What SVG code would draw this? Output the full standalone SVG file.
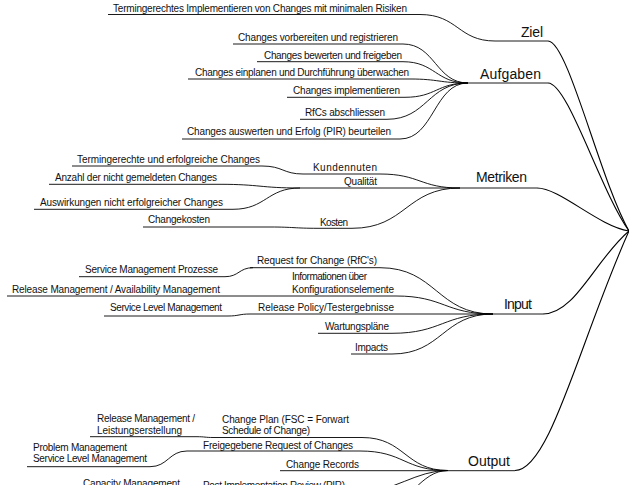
<svg xmlns="http://www.w3.org/2000/svg" width="629" height="485" viewBox="0 0 629 485">
<style>
.c{fill:none;stroke:#000;stroke-width:0.9}
.r{fill:none;stroke:#000;stroke-width:1.1}
.t{font-family:"Liberation Sans",Arial,sans-serif;font-size:10px;fill:#111}
.m{font-family:"Liberation Sans",Arial,sans-serif;font-size:14px;fill:#111}
</style>
<rect width="629" height="485" fill="#fff"/>
<g id="connectors">
<path class="r" d="M548,41 C568,41 600,180 629,231"/>
<path class="r" d="M548,83 C568,83 600,190 629,231"/>
<path class="r" d="M537,188 C560,188 598,226 629,231"/>
<path class="r" d="M543,314 C575,314 595,260 629,231"/>
<path class="r" d="M515,470.5 C550,470.5 580,340 629,231"/>
<path class="c" d="M108,14.5 H420 C458,14.5 458,41 495,41 H548"/>
<path class="c" d="M468,83 H548"/>
<path class="c" d="M233,44 H403 C435,44 436,83 468,83"/>
<path class="c" d="M257,61.7 H403 C435,61.7 436,83 468,83"/>
<path class="c" d="M188,79 H410 C439,79 439,83 468,83"/>
<path class="c" d="M287,97.3 H405 C436,97.3 437,83 468,83"/>
<path class="c" d="M300,119.3 H387 C427,119.3 428,83 468,83"/>
<path class="c" d="M182,139 H400 C434,139 434,83 468,83"/>
<path class="c" d="M72,166 H262 C283,166 283,174 303,174 H380 C420,174 420,188 460,188"/>
<path class="c" d="M49,184.3 H220 C260,184.3 260,188 300,188 H537"/>
<path class="c" d="M34,209.3 H233 C266,209.3 267,188 300,188"/>
<path class="c" d="M143,227 H270 C294,227 294,228.3 318,228.3 H352 C406,228.3 406,188 460,188"/>
<path class="c" d="M79,276.7 H225 C239,276.7 239,267.7 253,267.7"/>
<path class="c" d="M250,267.7 H380 C436,267.7 437,314 493,314"/>
<path class="c" d="M7,296 H396 C444,296 445,314 493,314"/>
<path class="c" d="M104,316 H228 C239,316 239,314 250,314 H543"/>
<path class="c" d="M318,333.3 H392 C442,333.3 443,314 493,314"/>
<path class="c" d="M351,354 H392 C442,354 443,314 493,314"/>
<path class="c" d="M90,436.7 H197 C205,436.7 205,437.5 213,437.5 H362 C405,437.5 405,470.5 448,470.5"/>
<path class="c" d="M27,466.7 H150 C168,466.7 169,451 187,451 H360 C404,451 404,470.5 448,470.5"/>
<path class="c" d="M280,470.7 H515"/>
<path class="c" d="M448,470.5 C415,470.5 395,492 360,492 H203"/>
<path class="c" d="M448,470.5 C420,470.5 410,505 380,510"/>
</g>
<g id="ziel">
<text class="m" x="521" y="37" textLength="22">Ziel</text>
</g>
<g id="ziel-1"><text class="t" x="113" y="11.5" textLength="294">Termingerechtes Implementieren von Changes mit minimalen Risiken</text></g>
<g id="aufgaben"><text class="m" x="480" y="79" textLength="61">Aufgaben</text></g>
<g id="aufgaben-1"><text class="t" x="238" y="41" textLength="160">Changes vorbereiten und registrieren</text></g>
<g id="aufgaben-2"><text class="t" x="264" y="58.5" textLength="138">Changes bewerten und freigeben</text></g>
<g id="aufgaben-3"><text class="t" x="195" y="75.7" textLength="214">Changes einplanen und Durchführung überwachen</text></g>
<g id="aufgaben-4"><text class="t" x="293" y="94" textLength="107">Changes implementieren</text></g>
<g id="aufgaben-5"><text class="t" x="305" y="115.7" textLength="80">RfCs abschliessen</text></g>
<g id="aufgaben-6"><text class="t" x="187" y="135" textLength="204">Changes auswerten und Erfolg (PIR) beurteilen</text></g>
<g id="metriken"><text class="m" x="476" y="182" textLength="51">Metriken</text></g>
<g id="kundennuten"><text class="t" x="313" y="171" textLength="64">Kundennuten</text></g>
<g id="kundennuten-1"><text class="t" x="77" y="163.3" textLength="183">Termingerechte und erfolgreiche Changes</text></g>
<g id="qualitaet"><text class="t" x="344" y="184.5" textLength="33">Qualität</text></g>
<g id="qualitaet-1"><text class="t" x="55" y="181" textLength="162">Anzahl der nicht gemeldeten Changes</text></g>
<g id="qualitaet-2"><text class="t" x="40" y="205.7" textLength="183">Auswirkungen nicht erfolgreicher Changes</text></g>
<g id="kosten"><text class="t" x="320" y="225.5" textLength="28">Kosten</text></g>
<g id="kosten-1"><text class="t" x="148" y="223" textLength="62">Changekosten</text></g>
<g id="input"><text class="m" x="504" y="309" textLength="28">Input</text></g>
<g id="rfc"><text class="t" x="257" y="264" textLength="120">Request for Change (RfC's)</text></g>
<g id="rfc-1"><text class="t" x="85" y="272.5" textLength="133">Service Management Prozesse</text></g>
<g id="konfig"><text class="t" x="292" y="280" textLength="75">Informationen über</text><text class="t" x="292" y="292.5" textLength="102">Konfigurationselemente</text></g>
<g id="konfig-1"><text class="t" x="12" y="292.5" textLength="208">Release Management / Availability Management</text></g>
<g id="policy"><text class="t" x="258" y="311" textLength="136">Release Policy/Testergebnisse</text></g>
<g id="policy-1"><text class="t" x="110" y="311" textLength="112">Service Level Management</text></g>
<g id="wartung"><text class="t" x="325" y="329.5" textLength="64">Wartungspläne</text></g>
<g id="impacts"><text class="t" x="355" y="351" textLength="33">Impacts</text></g>
<g id="output"><text class="m" x="468" y="465.5" textLength="42">Output</text></g>
<g id="changeplan"><text class="t" x="222" y="422.5" textLength="127">Change Plan (FSC = Forwart</text><text class="t" x="222" y="434" textLength="88">Schedule of Change)</text></g>
<g id="changeplan-1"><text class="t" x="97" y="422" textLength="98">Release Management /</text><text class="t" x="97" y="433.5" textLength="85">Leistungserstellung</text></g>
<g id="freigegeben"><text class="t" x="203" y="448.5" textLength="150">Freigegebene Request of Changes</text></g>
<g id="freigegeben-1"><text class="t" x="33" y="450.5" textLength="94">Problem Management</text><text class="t" x="33" y="462" textLength="114">Service Level Management</text></g>
<g id="records"><text class="t" x="286" y="468" textLength="73">Change Records</text></g>
<g id="pir"><text class="t" x="203" y="488.5" textLength="142">Post Implementation Review (PIR)</text></g>
<g id="pir-1"><text class="t" x="83" y="487" textLength="97">Capacity Management</text></g>
</svg>
